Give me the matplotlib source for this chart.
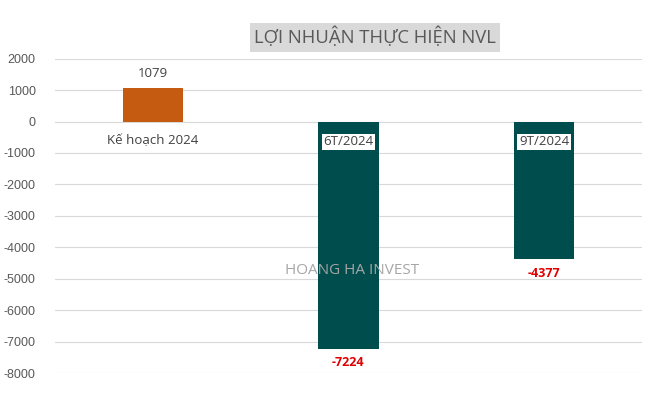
import matplotlib.pyplot as plt

categories = ['Kế hoạch 2024', '6T/2024', '9T/2024']
values = [1079, -7224, -4377]
colors = ['#C55A11', '#004D4D', '#004D4D']

plt.rcParams['font.family'] = ['Open Sans', 'DejaVu Sans']
plt.rcParams['axes.unicode_minus'] = False

fig = plt.figure(figsize=(6.63, 4.03), dpi=100)
ax = fig.add_axes([0.083, 0.0744, 0.885, 0.78])

x = range(len(categories))
ax.bar(x, values, width=0.31, color=colors, zorder=3)

ax.set_xlim(-0.5, 2.5)
ax.set_ylim(-8000, 2000)
ax.set_yticks(range(-8000, 2001, 1000))
ax.tick_params(axis='y', length=0, labelsize=9, labelcolor='#595959', pad=14)
for lbl in ax.get_yticklabels():
    lbl.set_family('Liberation Sans')
ax.set_xticks([])
ax.grid(axis='y', color='#d9d9d9', linewidth=0.8, zorder=0)
for s in ax.spines.values():
    s.set_visible(False)

for i, (cat, v) in enumerate(zip(categories, values)):
    if v >= 0:
        ax.text(i, v + 250, str(v), ha='center', va='bottom', fontsize=9.5, color='#404040')
        ax.text(i, -620, cat, ha='center', va='center', fontsize=9.5, color='#404040')
    else:
        ax.text(i, v - 250, str(v), ha='center', va='top', fontsize=9, color='#e00000',
                fontweight='bold')
        ax.text(i, -640, cat, ha='center', va='center', fontsize=9.5, color='#404040',
                bbox=dict(facecolor='white', edgecolor='none', pad=1), zorder=4)

fig.text(0.566, 0.908, 'LỢI NHUẬN THỰC HIỆN NVL', ha='center', va='center', fontsize=13.3,
         color='#595959', bbox=dict(facecolor='#d9d9d9', edgecolor='none', pad=3))

ax.text(1.02, -4750, 'HOANG HA INVEST', ha='center', va='center', fontsize=11,
        color='#a6a6a6', zorder=5)

fig.savefig('out.png', dpi=100)
